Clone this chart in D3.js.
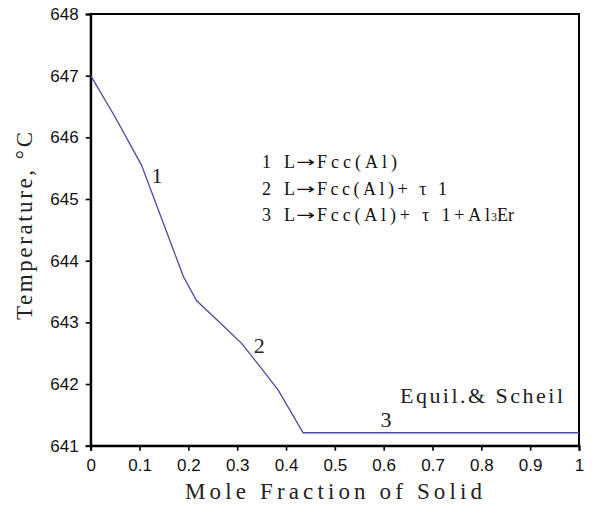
<!DOCTYPE html>
<html><head><meta charset="utf-8">
<script src="https://cdn.jsdelivr.net/npm/d3@7"></script>
<style>body{margin:0;background:#fff}svg{display:block}</style>
</head><body>
<svg id="c" width="592" height="510"></svg>
<script>
// Data
const fraction = [0, 0.05, 0.104, 0.19, 0.217, 0.26, 0.309, 0.35, 0.384, 0.435, 1];
const temperature = [647.0, 646.33, 645.55, 643.74, 643.35, 643.03, 642.66, 642.25, 641.9, 641.21, 641.21];
const xTicks = [0, 0.1, 0.2, 0.3, 0.4, 0.5, 0.6, 0.7, 0.8, 0.9, 1];
const yTicks = [641, 642, 643, 644, 645, 646, 647, 648];
const stageLabels = ["1", "2", "3"];
const stageAt = [[0.136, 645.26], [0.345, 642.5], [0.605, 641.3]];
const legendNums = ["1", "2", "3"];
const legendTails = ["Fcc(Al)", "Fcc(Al)+ τ 1", "Fcc(Al)+ τ 1+Al"];

const svg = d3.select("#c");
const L = 90.7, R = 579, T = 14, B = 445.7;
const x = d3.scaleLinear().domain([0, 1]).range([L, R]);
const y = d3.scaleLinear().domain([641, 648]).range([B, T]);
const serif = "'Liberation Serif', serif";

// frame
svg.append("rect").attr("x", L).attr("y", T).attr("width", R - L).attr("height", B - T)
  .attr("fill", "none").attr("stroke", "#000").attr("stroke-width", 2);

const xa = svg.append("g").attr("transform", `translate(0,${B})`)
  .call(d3.axisBottom(x).tickValues(xTicks).tickFormat(d => d === 0 ? "0" : d === 1 ? "1" : d3.format(".1f")(d)).tickSizeOuter(0).tickSize(5).tickPadding(8));
const ya = svg.append("g").attr("transform", `translate(${L},0)`)
  .call(d3.axisLeft(y).tickValues(yTicks).tickFormat(d3.format("d")).tickSizeOuter(0).tickSize(5).tickPadding(7));
[xa, ya].forEach(g => {
  g.select(".domain").attr("stroke-width", 2);
  g.selectAll(".tick line").attr("stroke-width", 1.6);
  g.selectAll("text").attr("font-family", "'Liberation Sans', Arial, sans-serif").attr("font-size", 17).attr("fill", "#111");
});

// curve
svg.append("path").datum(fraction.map((f, i) => [f, temperature[i]]))
  .attr("fill", "none").attr("stroke", "#4a4aa2").attr("stroke-width", 1.3)
  .attr("d", d3.line().x(d => x(d[0])).y(d => y(d[1])));

// stage labels
stageLabels.forEach((s, i) => {
  svg.append("text").attr("x", x(stageAt[i][0])).attr("y", y(stageAt[i][1]))
    .attr("text-anchor", "middle").attr("font-family", serif).attr("font-size", 22).attr("fill", "#222").text(s);
});

// legend
const lg = svg.append("g").attr("font-family", serif).attr("font-size", 18).attr("fill", "#111");
const tailLens = [80, 130, 173];
legendNums.forEach((n, i) => {
  const by = 168 + i * 26.5;
  lg.append("text").attr("x", 262).attr("y", by).text(n);
  lg.append("text").attr("x", 284).attr("y", by).text("L");
  lg.append("text").attr("x", 296).attr("y", by - 1).attr("font-family", "'DejaVu Sans', sans-serif")
    .attr("font-size", 15).attr("textLength", 19).attr("lengthAdjust", "spacingAndGlyphs").text("→");
  lg.append("text").attr("x", 317).attr("y", by).attr("textLength", tailLens[i]).attr("lengthAdjust", "spacing").text(legendTails[i]);
  if (i === 2) {
    const t2 = lg.append("text").attr("x", 317 + tailLens[i] + 1).attr("y", by);
    t2.append("tspan").attr("font-size", 12).text("3");
    t2.append("tspan").text("Er");
  }
});

svg.append("text").attr("x", 400).attr("y", 403).attr("textLength", 163).attr("lengthAdjust", "spacing")
  .attr("font-family", serif).attr("font-size", 22).attr("fill", "#222").text("Equil.& Scheil");

// axis titles
svg.append("text").attr("x", 333.5).attr("y", 499).attr("text-anchor", "middle")
  .attr("textLength", 297).attr("lengthAdjust", "spacing")
  .attr("font-family", serif).attr("font-size", 23).attr("fill", "#222").text("Mole Fraction of Solid");
svg.append("text").attr("transform", "translate(32,226) rotate(-90)").attr("text-anchor", "middle")
  .attr("textLength", 188).attr("lengthAdjust", "spacing")
  .attr("font-family", serif).attr("font-size", 23).attr("fill", "#222").text("Temperature, °C");
</script>
</body></html>
